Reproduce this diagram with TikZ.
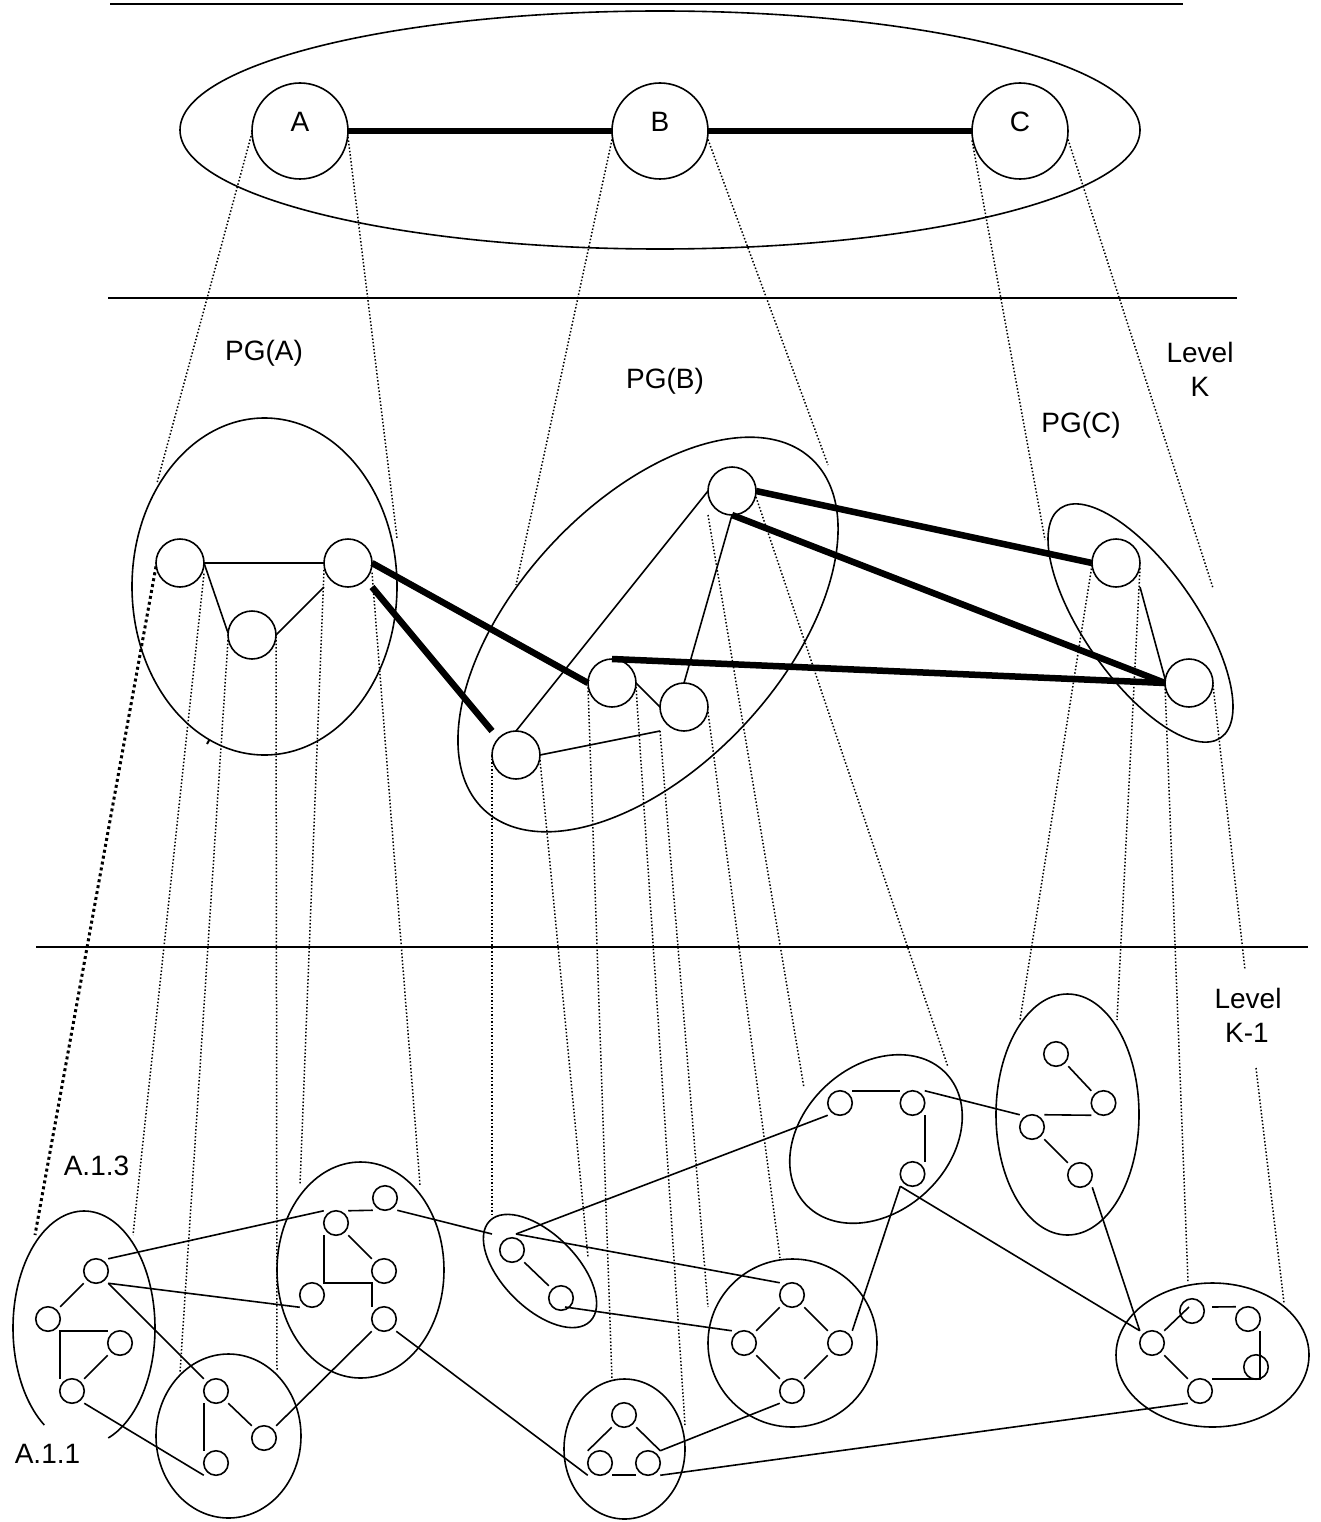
\documentclass[tikz,border=0pt]{standalone}
\usepackage{fontspec}
\setmainfont{Liberation Sans}
\begin{document}
\begin{tikzpicture}[x=1pt,y=-1pt,
  ln/.style={line width=1.6pt},
  thk/.style={line width=6.5pt},
  sepl/.style={line width=2pt},
  dts/.style={line width=1.5pt,dash pattern=on 1.5pt off 2pt},
  bdts/.style={line width=3pt,dash pattern=on 3pt off 3pt},
  bign/.style={rectangle,draw,line width=1.6pt,inner sep=0pt,outer sep=0pt,minimum width=96pt,minimum height=96pt,rounded corners=48pt,font=\fontsize{28}{34}\selectfont,text height=20pt,text depth=18pt},
  midn/.style={rectangle,draw,line width=1.6pt,inner sep=0pt,outer sep=0pt,minimum width=48pt,minimum height=48pt,rounded corners=24pt},
  smn/.style={rectangle,draw,line width=1.6pt,inner sep=0pt,outer sep=0pt,minimum width=24.5pt,minimum height=24.5pt,rounded corners=12.25pt},
  txt/.style={font=\fontsize{28}{34}\selectfont,anchor=base,inner sep=0pt},
]
\useasboundingbox (0,0) rectangle (1320,1522);

% ---------- separators ----------
\coordinate (s1a) at (110,4);   \coordinate (s1b) at (1183,4);
\coordinate (s2a) at (108,298); \coordinate (s2b) at (1237,298);
\coordinate (s3a) at (36,947);  \coordinate (s3b) at (1308,947);
\draw[sepl] (s1a) -- (s1b);
\draw[sepl] (s2a) -- (s2b);
\draw[sepl] (s3a) -- (s3b);

% ---------- top level ----------
\draw[ln] (660,130) ellipse[x radius=480,y radius=119];
\node[bign] (A) at (300,131) {A};
\node[bign] (B) at (660,131) {B};
\node[bign] (C) at (1020,131) {C};
\draw[thk] (A) -- (B);
\draw[thk] (B) -- (C);

% ---------- labels ----------
\node[txt] (lpga) at (264,360) {PG(A)};
\node[txt] (lpgb) at (665,388) {PG(B)};
\node[txt] (lpgc) at (1081,432) {PG(C)};
\node[txt] (llev1) at (1200,362) {Level};
\node[txt] (lk1) at (1200,396) {K};
\node[txt] (llev2) at (1248,1008) {Level};
\node[txt] (lk2) at (1247,1042) {K-1};
\node[txt] (la13) at (96.5,1175) {A.1.3};
\node[txt] (la11) at (47.5,1463) {A.1.1};

% ---------- level K peer groups ----------
\draw[ln] (264.5,586.5) ellipse[x radius=132.5,y radius=168.5];
\draw[ln,rotate around={47:(648,634.5)}] (648,634.5) ellipse[x radius=240,y radius=132];
\draw[ln,rotate around={-55:(1140.5,623)}] (1140.5,623) ellipse[x radius=140,y radius=56];

\node[midn] (pa1) at (180,563) {};
\node[midn] (pa2) at (348,563) {};
\node[midn] (pa3) at (252,635) {};
\node[midn] (pb1) at (516,755) {};
\node[midn] (pb2) at (612,683) {};
\node[midn] (pb3) at (684,707) {};
\node[midn] (pb4) at (732,491) {};
\node[midn] (pc1) at (1116,563) {};
\node[midn] (pc2) at (1189,683) {};

\draw[ln] (pa1.east) -- (pa2.west);
\draw[ln] (pa1.east) -- (pa3.175);
\draw[ln] (pa3.east) -- (pa2.south west);
\draw[thk] (pa2.east) -- (pb2.west);
\draw[thk] (pa2.south east) -- (pb1.north west);
\draw[ln] (pb1.north) -- (pb4.west);
\draw[ln] (pb4.south) -- (pb3.north);
\draw[ln] (pb2.east) -- (pb3.west);
\draw[ln] (pb1.east) -- (pb3.south west);
\draw[thk] (pb2.north) -- (pc2.west);
\draw[thk] (pb4.east) -- (pc1.west);
\draw[thk] (pb4.south) -- (pc2.west);
\draw[ln] (pc1.south east) -- (pc2.170);
\coordinate (tk1) at (207,744); \coordinate (tk2) at (209.5,739.5);
\draw[line width=2pt] (tk1) -- (tk2);

% ---------- dotted: top -> level K ----------
\coordinate (u1) at (157,483);
\coordinate (u2) at (397,538);
\coordinate (u3) at (516,585);
\coordinate (u4) at (828,465);
\coordinate (u5) at (1045,540);
\coordinate (u6) at (1213,588);
\draw[dts] (A.182) -- (u1);
\draw[dts] (A.-7) -- (u2);
\draw[dts] (B.190) -- (u3);
\draw[dts] (B.-10) -- (u4);
\draw[dts] (C.191) -- (u5);
\draw[dts] (C.-10) -- (u6);

% ---------- level K-1 groups ----------
\draw[ln] (44.3,1425) arc[start angle=124,end angle=430,x radius=71,y radius=117];
\draw[ln] (360.5,1270) ellipse[x radius=83.5,y radius=108];
\draw[ln] (228.5,1436) ellipse[x radius=72.5,y radius=82];
\draw[ln,rotate around={-45:(540,1271)}] (540,1271) ellipse[x radius=71,y radius=37];
\draw[ln] (624.5,1449) ellipse[x radius=60.5,y radius=70];
\draw[ln,rotate around={42.5:(876,1139)}] (876,1139) ellipse[x radius=96,y radius=73];
\draw[ln] (792.5,1343) ellipse[x radius=84.5,y radius=84];
\draw[ln] (1212.5,1355) ellipse[x radius=96.5,y radius=72];
\draw[ln] (1067.5,1114.5) ellipse[x radius=71.5,y radius=120.5];

\node[smn] (q1) at (96,1271) {};
\node[smn] (q2) at (48,1319) {};
\node[smn] (q3) at (120,1343) {};
\node[smn] (q4) at (72,1391) {};
\node[smn] (g2a) at (385,1198) {};
\node[smn] (g2b) at (336,1223) {};
\node[smn] (g2c) at (384,1271) {};
\node[smn] (g2d) at (312,1295) {};
\node[smn] (g2e) at (384,1319) {};
\node[smn] (g3a) at (216,1391) {};
\node[smn] (g3b) at (264,1438) {};
\node[smn] (g3c) at (216,1463) {};
\node[smn] (g4a) at (512,1250) {};
\node[smn] (g4b) at (561,1298) {};
\node[smn] (g5a) at (624,1415) {};
\node[smn] (g5b) at (600,1463) {};
\node[smn] (g5c) at (648,1463) {};
\node[smn] (g6a) at (840,1103) {};
\node[smn] (g6b) at (912.5,1103) {};
\node[smn] (g6c) at (912.5,1174) {};
\node[smn] (g7a) at (792,1295) {};
\node[smn] (g7b) at (744,1343) {};
\node[smn] (g7c) at (840,1343) {};
\node[smn] (g7d) at (792,1391) {};
\node[smn] (g8a) at (1152,1343) {};
\node[smn] (g8b) at (1192,1311) {};
\node[smn] (g8c) at (1248,1319) {};
\node[smn] (g8d) at (1256,1367) {};
\node[smn] (g8e) at (1200,1391) {};
\node[smn] (g9a) at (1056,1054) {};
\node[smn] (g9b) at (1103.5,1103) {};
\node[smn] (g9c) at (1032,1127) {};
\node[smn] (g9d) at (1080,1175) {};

\coordinate (e1) at (492,1234);
\coordinate (e2) at (516,1234);
\coordinate (e3) at (565,1307);
\coordinate (h1) at (1189,1307);
\coordinate (h2) at (1212,1307);

% group A.1.1
\draw[ln] (q1.south west) -- (q2.north east);
\draw[ln] (q4.north west) |- (q3.north west);
\draw[ln] (q3.south west) -- (q4.north east);
\draw[ln] (q1.north east) -- (g2b.north west);
\draw[ln] (q1.south east) -- (g2d.south west);
\draw[ln] (q1.south east) -- (g3a.north west);
\draw[ln] (q4.south east) -- (g3c.south west);
% group 2
\draw[ln] (g2b.north east) -- (g2a.south west);
\draw[ln] (g2b.south east) -- (g2c.north west);
\draw[ln] (g2b.south west) |- (g2c.south west) -- (g2e.north west);
\draw[ln] (g2a.south east) -- (e1);
\draw[ln] (g2e.south east) -- (g5b.south west);
\draw[ln] (g2e.south west) -- (g3b.north east);
% group 3
\draw[ln] (g3a.south east) -- (g3b.north west);
\draw[ln] (g3a.south west) -- (g3c.north west);
% group 4
\draw[ln] (g4a.south east) -- (g4b.north west);
\draw[ln] (e2) -- (g6a.south west);
\draw[ln] (e2) -- (g7a.north west);
\draw[ln] (e3) -- (g7b.north west);
% group 5
\draw[ln] (g5a.south west) -- (g5b.north west);
\draw[ln] (g5a.south east) -- (g5c.north east);
\draw[ln] (g5b.south east) -- (g5c.south west);
\draw[ln] (g5c.north east) -- (g7d.south west);
\draw[ln] (g5c.south east) -- (g8e.south west);
% group 7
\draw[ln] (g7a.south west) -- (g7b.north east);
\draw[ln] (g7a.south east) -- (g7c.north west);
\draw[ln] (g7b.south east) -- (g7d.north west);
\draw[ln] (g7c.south west) -- (g7d.north east);
\draw[ln] (g7c.north east) -- (g6c.south west);
% group 6
\draw[ln] (g6a.north east) -- (g6b.north west);
\draw[ln] (g6b.south east) -- (g6c.north east);
\draw[ln] (g6b.north east) -- (g9c.north west);
\draw[ln] (g6c.south west) -- (g8a.north west);
% group 9
\draw[ln] (g9a.south east) -- (g9b.north west);
\draw[ln] (g9c.north east) -- (g9b.south west);
\draw[ln] (g9c.south east) -- (g9d.north west);
\draw[ln] (g9d.south east) -- (g8a.north west);
% group 8
\draw[ln] (g8a.north east) -- (h1);
\draw[ln] (h2) -- (g8c.north west);
\draw[ln] (g8c.south east) |- (g8e.north east);
\draw[ln] (g8a.south east) -- (g8e.north west);

% ---------- dotted: level K -> level K-1 ----------
\coordinate (d1) at (35,1235);
\coordinate (d2) at (133,1235);
\coordinate (d3) at (180,1373);
\coordinate (d4) at (277,1370);
\coordinate (d5) at (300,1185);
\coordinate (d6) at (420,1185);
\coordinate (d7) at (492,1215);
\coordinate (d8) at (588,1257);
\coordinate (d9) at (612,1379);
\coordinate (d10) at (685,1425);
\coordinate (d11) at (708,1307);
\coordinate (d12) at (780,1258);
\coordinate (d13) at (804,1088);
\coordinate (d14) at (948,1067);
\coordinate (d15) at (1020,1020);
\coordinate (d16) at (1117,1020);
\coordinate (d17) at (1188,1282);
\coordinate (k1) at (1245,970);
\coordinate (k2) at (1256,1068);
\coordinate (d18) at (1284,1303);
\draw[bdts] (pa1.188) -- (d1);
\draw[dts] (pa1.-24) -- (d2);
\draw[dts] (pa3.192) -- (d3);
\draw[dts] (pa3.-4) -- (d4);
\draw[dts] (pa2.196) -- (d5);
\draw[dts] (pa2.-22) -- (d6);
\draw[dts] (pb1.west) -- (d7);
\draw[dts] (pb1.-12) -- (d8);
\draw[dts] (pb2.190) -- (d9);
\draw[dts] (pb2.-9) -- (d10);
\draw[dts] (pb3.south west) -- (d11);
\draw[dts] (pb3.-12) -- (d12);
\draw[dts] (pb4.south west) -- (d13);
\draw[dts] (pb4.-14) -- (d14);
\draw[dts] (pc1.185) -- (d15);
\draw[dts] (pc1.-12) -- (d16);
\draw[dts] (pc2.185) -- (d17);
\draw[dts] (pc2.-5) -- (k1) (k2) -- (d18);
\end{tikzpicture}
\end{document}
